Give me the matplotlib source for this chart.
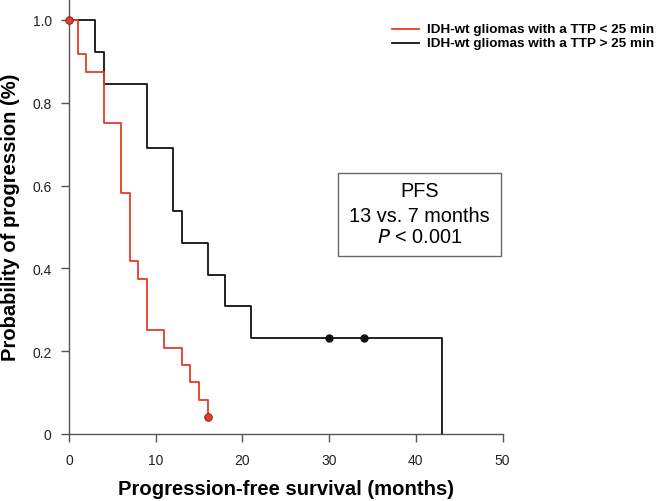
import matplotlib
matplotlib.use("Agg")
import matplotlib.pyplot as plt
from matplotlib.lines import Line2D
from matplotlib.patches import Rectangle

plt.rcParams['font.family'] = ['Liberation Sans', 'DejaVu Sans']

# Kaplan-Meier step data (time in months, probability)
red_label = "IDH-wt gliomas with a TTP < 25 min"
red_times = [0, 1, 2, 4, 6, 7, 8, 9, 11, 13, 14, 15, 16]
red_probs = [1.0, 0.917, 0.875, 0.75, 0.583, 0.417, 0.375, 0.25, 0.208, 0.167, 0.125, 0.083, 0.042]
red_censor_t = [0, 16]
red_censor_p = [1.0, 0.042]

black_label = "IDH-wt gliomas with a TTP > 25 min"
black_times = [0, 3, 4, 9, 12, 13, 16, 18, 21, 43]
black_probs = [1.0, 0.923, 0.846, 0.692, 0.538, 0.462, 0.385, 0.308, 0.231, 0.0]
black_censor_t = [30, 34]
black_censor_p = [0.231, 0.231]

x_ticks = [0, 10, 20, 30, 40, 50]
y_ticks = [0, 0.2, 0.4, 0.6, 0.8, 1.0]
y_ticklabels = ["0", "0.2", "0.4", "0.6", "0.8", "1.0"]

RED = '#E53B2A'
BLACK = '#111111'
AX = '#555555'

fig = plt.figure(figsize=(6.58, 5.02), dpi=100)
ax = fig.add_axes([69/658, 67/502, (502.5-69)/658, 435/502])

ax.step(black_times, black_probs, where='post', color=BLACK, lw=1.3, zorder=3)
ax.step(red_times, red_probs, where='post', color=RED, lw=1.3, zorder=4)
ax.plot(black_censor_t, black_censor_p, 'o', color=BLACK, ms=5, zorder=5, clip_on=False)
ax.plot(red_censor_t, red_censor_p, 'o', mfc=RED, mec='#7a1a10', mew=0.6, ms=5.5, zorder=6, clip_on=False)

ax.set_xlim(0, 50)
ax.set_ylim(0, 1.0507)
for s in ['top', 'right']:
    ax.spines[s].set_visible(False)
for s in ['left', 'bottom']:
    ax.spines[s].set_color(AX)
    ax.spines[s].set_linewidth(1.0)
ax.spines['bottom'].set_zorder(1)

ax.set_xticks(x_ticks)
ax.set_xticklabels([str(v) for v in x_ticks])
ax.set_yticks(y_ticks)
ax.set_yticklabels(y_ticklabels)
ax.tick_params(axis='both', direction='out', length=6, width=1.0, color=AX,
               labelsize=10, labelcolor='#222222')
ax.tick_params(axis='x', pad=8)
ax.tick_params(axis='y', pad=6.5)

ax.set_xlabel("Progression-free survival (months)", fontsize=14.6, fontweight='bold', labelpad=8)
ax.set_ylabel("Probability of progression (%)", fontsize=14.5, fontweight='bold', labelpad=9)

# annotation box
ax.add_patch(Rectangle((31.0, 0.43), 18.8, 0.2, fill=False, ec='#666666', lw=1.0, zorder=2))
ax.text(40.4, 0.588, "PFS", ha='center', va='center', fontsize=14.3)
ax.text(40.4, 0.527, "13 vs. 7 months", ha='center', va='center', fontsize=14.3)
ax.text(40.4, 0.476, r"$\it{P}$ < 0.001", ha='center', va='center', fontsize=14.3)

# legend (manual)
for (lbl, col, ypx) in [(red_label, RED, 30), (black_label, BLACK, 44.3)]:
    yf = 1 - ypx/502
    fig.add_artist(Line2D([391.7/658, 419/658], [yf, yf], color=col, lw=1.3, transform=fig.transFigure))
    fig.text(427/658, yf, lbl, ha='left', va='center', fontsize=9.7, fontweight='bold')

fig.savefig("out.png", dpi=100)
